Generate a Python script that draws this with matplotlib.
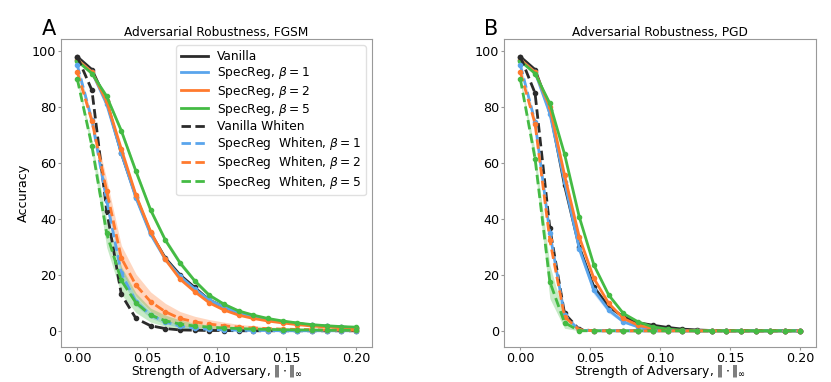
import matplotlib
matplotlib.use('Agg')
import matplotlib.pyplot as plt
import numpy as np

# attack strengths (20 steps between 0 and 0.2)
eps = [0.0, 0.0105, 0.0211, 0.0316, 0.0421, 0.0526, 0.0632, 0.0737, 0.0842, 0.0947,
       0.1053, 0.1158, 0.1263, 0.1368, 0.1474, 0.1579, 0.1684, 0.1789, 0.1895, 0.2]

labels = ['Vanilla', r'SpecReg, $\beta = 1$', r'SpecReg, $\beta = 2$', r'SpecReg, $\beta = 5$',
          'Vanilla Whiten', r'SpecReg  Whiten, $\beta = 1$', r'SpecReg  Whiten, $\beta = 2$',
          r'SpecReg  Whiten, $\beta = 5$']
colors = ['#2b2b2b', '#5aa5ec', '#ff7a2e', '#44bb44']

# --- FGSM ---
fgsm_vanilla = [98, 93.4, 82, 63.5, 48, 35, 26, 20, 15.5, 11, 8.5, 6.4, 5, 4, 3.2, 2.6, 2.0, 1.6, 1.3, 1.1]
fgsm_b1 = [97, 92.5, 81, 63.5, 47.5, 34.5, 25.5, 19.5, 15, 11, 8.5, 6.4, 5, 4, 3.2, 2.5, 2.0, 1.6, 1.3, 1.1]
fgsm_b2 = [97, 92.5, 82, 65, 48.5, 35.5, 25.5, 18.5, 14, 10, 7.4, 5.6, 4.4, 3.5, 2.8, 2.2, 1.7, 1.4, 1.1, 0.9]
fgsm_b5 = [96.5, 92, 83.8, 71.5, 57, 43.2, 32.4, 24.3, 17.9, 12.7, 9.5, 7.1, 5.6, 4.4, 3.5, 2.8, 2.2, 1.8, 1.5, 1.3]
fgsm_vw = [98, 86, 43, 13, 4.4, 1.8, 0.8, 0.3, 0.2, 0.1, 0.1, 0, 0, 0, 0, 0, 0, 0, 0, 0]
fgsm_w1 = [95, 75.3, 46.5, 20.5, 10.4, 5.6, 3.2, 1.7, 0.9, 0.5, 0.3, 0.2, 0.1, 0.1, 0, 0, 0, 0, 0, 0]
fgsm_w2 = [92.5, 75, 50, 26, 16.3, 10.4, 6.8, 4.4, 3.2, 2.4, 1.8, 1.3, 1.0, 0.8, 0.6, 0.5, 0.4, 0.3, 0.3, 0.2]
fgsm_w5 = [90, 66, 34.8, 18, 10, 5.6, 3.6, 2.4, 1.7, 1.3, 1.0, 0.8, 0.6, 0.5, 0.4, 0.3, 0.3, 0.2, 0.2, 0.2]

fgsm_std_w1 = [0.5, 1.5, 2, 2, 1.5, 1, 0.8, 0.5, 0.3, 0.2, 0.1, 0, 0, 0, 0, 0, 0, 0, 0, 0]
fgsm_std_w2 = [1, 2, 4, 4.5, 4, 3.5, 3, 2.5, 2, 1.6, 1.3, 1, 0.8, 0.6, 0.5, 0.4, 0.3, 0.3, 0.2, 0.2]
fgsm_std_w5 = [1, 2, 5, 5, 3.5, 2.5, 2, 1.5, 1, 0.8, 0.6, 0.5, 0.4, 0.3, 0.3, 0.2, 0.2, 0.2, 0.1, 0.1]
fgsm_std_b5 = [0.5, 0.5, 1, 1, 1, 1, 1, 1, 0.8, 0.8, 0.6, 0.5, 0.5, 0.4, 0.4, 0.3, 0.3, 0.3, 0.3, 0.3]

# --- PGD ---
pgd_vanilla = [98, 93.4, 79, 52, 30, 15.7, 8.6, 5, 2.9, 2, 1.2, 0.6, 0.3, 0.1, 0, 0, 0, 0, 0, 0]
pgd_b1 = [97, 92.5, 77.7, 53.3, 29.4, 14.5, 7.4, 3.2, 1.4, 0.6, 0.2, 0, 0, 0, 0, 0, 0, 0, 0, 0]
pgd_b2 = [97, 92.5, 80, 55.7, 33.6, 18.7, 9.8, 4.4, 2.0, 0.8, 0.3, 0, 0, 0, 0, 0, 0, 0, 0, 0]
pgd_b5 = [96.5, 92, 81.3, 63.2, 40.8, 23.5, 12.8, 6.2, 3.2, 1.4, 0.6, 0.2, 0, 0, 0, 0, 0, 0, 0, 0]
pgd_vw = [98, 85, 36.6, 6.2, 0.5, 0, 0, 0, 0, 0, 0, 0, 0, 0, 0, 0, 0, 0, 0, 0]
pgd_w1 = [95, 74.7, 34.8, 5.6, 0.2, 0, 0, 0, 0, 0, 0, 0, 0, 0, 0, 0, 0, 0, 0, 0]
pgd_w2 = [92.5, 74.1, 32.4, 5, 0.3, 0, 0, 0, 0, 0, 0, 0, 0, 0, 0, 0, 0, 0, 0, 0]
pgd_w5 = [90, 61.6, 17.5, 2.9, 0, 0, 0, 0, 0, 0, 0, 0, 0, 0, 0, 0, 0, 0, 0, 0]

pgd_std_b1 = [0.5, 1, 2, 2, 2, 1.5, 1, 0.5, 0.3, 0.2, 0, 0, 0, 0, 0, 0, 0, 0, 0, 0]
pgd_std_w5 = [1, 3, 6, 2, 0, 0, 0, 0, 0, 0, 0, 0, 0, 0, 0, 0, 0, 0, 0, 0]
pgd_std_w1 = [0.5, 1.5, 2, 1, 0, 0, 0, 0, 0, 0, 0, 0, 0, 0, 0, 0, 0, 0, 0, 0]

panels = [
    ('Adversarial Robustness, FGSM', 'A',
     [fgsm_vanilla, fgsm_b1, fgsm_b2, fgsm_b5],
     [fgsm_vw, fgsm_w1, fgsm_w2, fgsm_w5],
     {(1, 1): fgsm_std_w1, (1, 2): fgsm_std_w2, (1, 3): fgsm_std_w5, (0, 3): fgsm_std_b5}),
    ('Adversarial Robustness, PGD', 'B',
     [pgd_vanilla, pgd_b1, pgd_b2, pgd_b5],
     [pgd_vw, pgd_w1, pgd_w2, pgd_w5],
     {(0, 1): pgd_std_b1, (1, 1): pgd_std_w1, (1, 3): pgd_std_w5}),
]

fig = plt.figure(figsize=(8.31, 3.82), dpi=100)
axes_pos = [[0.0734, 0.0916, 0.3743, 0.806], [0.6065, 0.0916, 0.3755, 0.806]]
letter_x = [0.050, 0.583]

x = np.array(eps)
for i, (title, letter, solid, dashed, stds) in enumerate(panels):
    ax = fig.add_axes(axes_pos[i])
    for kind, group in enumerate([solid, dashed]):
        for j, ys in enumerate(group):
            ys = np.array(ys, dtype=float)
            c = colors[j]
            if (kind, j) in stds:
                s = np.array(stds[(kind, j)])
                ax.fill_between(x, ys - s, ys + s, color=c, alpha=0.3, lw=0)
            if kind == 0:
                ax.plot(x, ys, '-', color=c, lw=2.0, label=labels[j])
            else:
                ax.plot(x, ys, '--', color=c, lw=2.0, dashes=(3.4, 1.6), label=labels[4 + j])
            ax.plot(x, ys, 'o', color=c, markersize=3.0)
    ax.set_xlim(-0.0117, 0.2115)
    ax.set_ylim(-5.8, 104.3)
    ax.set_xticks([0, 0.05, 0.10, 0.15, 0.20])
    ax.set_xticklabels(['0.00', '0.05', '0.10', '0.15', '0.20'])
    ax.set_yticks([0, 20, 40, 60, 80, 100])
    ax.tick_params(labelsize=9.2, length=2, color='#999999', pad=1.5)
    for sp in ax.spines.values():
        sp.set_color('#999999')
        sp.set_linewidth(0.8)
    ax.set_title(title, fontsize=8.7, pad=2)
    ax.set_xlabel(r'Strength of Adversary, $\|\cdot\|_\infty$', fontsize=8.8, labelpad=-1)
    if i == 0:
        ax.set_ylabel('Accuracy', fontsize=9.2, labelpad=1)
        ax.legend(loc='upper right', fontsize=8.8, handlelength=2.2, labelspacing=0.18,
                  handletextpad=0.7, borderpad=0.4, framealpha=0.9, edgecolor='#dddddd')
    fig.text(letter_x[i], 0.908, letter, fontsize=15, ha='left', va='baseline')

plt.savefig('out.png', dpi=100)
